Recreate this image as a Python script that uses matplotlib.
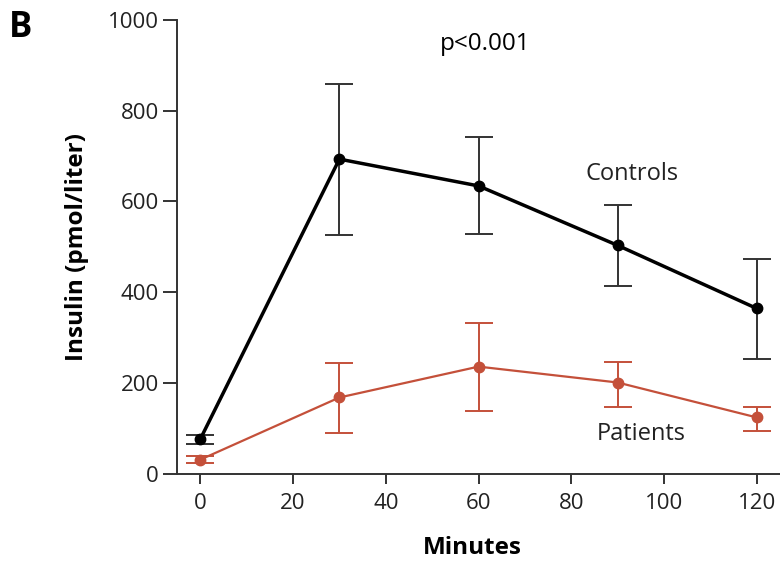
import matplotlib
matplotlib.use('Agg')
import matplotlib.pyplot as plt

plt.rcParams['font.family'] = ['Open Sans', 'DejaVu Sans']

minutes = [0, 30, 60, 90, 120]
ctrl = [76, 693, 634, 503, 364]
ctrl_lo = [66, 525, 528, 413, 252]
ctrl_hi = [86, 859, 742, 592, 472]
pat = [31, 168, 236, 201, 124]
pat_lo = [23, 90, 139, 148, 95]
pat_hi = [39, 245, 333, 247, 148]

red = '#c4503a'

fig = plt.figure(figsize=(7.8, 5.64), dpi=100)
ax = fig.add_axes([0.227, 0.16, 0.773, 0.805])

# error bars as offsets from the means
ctrl_err = [[c - l for c, l in zip(ctrl, ctrl_lo)], [h - c for c, h in zip(ctrl, ctrl_hi)]]
pat_err = [[p - l for p, l in zip(pat, pat_lo)], [h - p for p, h in zip(pat, pat_hi)]]

ax.errorbar(minutes, ctrl, yerr=ctrl_err,
            color='black', ecolor='#333333', elinewidth=1.4, capsize=10, capthick=1.4,
            lw=2.5, marker='o', ms=7.5, zorder=3)
ax.errorbar(minutes, pat, yerr=pat_err,
            color=red, ecolor=red, elinewidth=1.4, capsize=10, capthick=1.4,
            lw=1.6, marker='o', ms=7.5, zorder=3)

ax.set_xlim(-5, 125)
ax.set_ylim(0, 1000)
ax.set_xticks([0, 20, 40, 60, 80, 100, 120])
ax.set_yticks([0, 200, 400, 600, 800, 1000])
ax.spines['top'].set_visible(False)
ax.spines['right'].set_visible(False)
for s in ['left', 'bottom']:
    ax.spines[s].set_linewidth(1.4)
    ax.spines[s].set_color('#333333')
ax.tick_params(direction='out', width=1.4, labelsize=16, colors='#333333',
               labelcolor='#222222')
ax.tick_params(axis='y', length=10, pad=3)
ax.tick_params(axis='x', length=7.5, pad=6)

ax.set_ylabel('Insulin (pmol/liter)', fontsize=17.5, fontweight='bold', va='center')
ax.set_xlabel('Minutes', fontsize=17.5, fontweight='bold', va='center')
ax.yaxis.set_label_coords(-0.166, 0.5)
ax.xaxis.set_label_coords(0.489, -0.163)

ax.text(93, 660, 'Controls', fontsize=17, ha='center', va='center', color='#222222')
ax.text(95, 88, 'Patients', fontsize=17, ha='center', va='center', color='#222222')
fig.text(0.622, 0.922, 'p<0.001', fontsize=17.5, ha='center', va='center')
fig.text(0.012, 0.95, 'B', fontsize=25, fontweight='bold', ha='left', va='center')

fig.savefig('out.png', dpi=100)
